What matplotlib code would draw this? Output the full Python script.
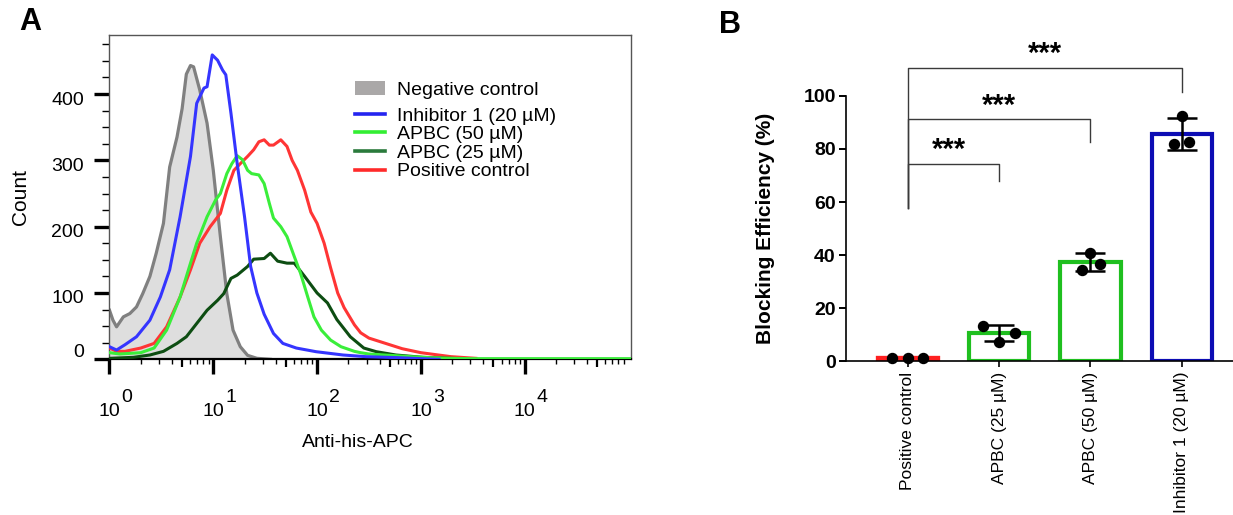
import numpy as np
import matplotlib
matplotlib.use('Agg')
import matplotlib.pyplot as plt
from matplotlib.lines import Line2D
from matplotlib.patches import Patch
from matplotlib.ticker import FixedLocator, NullFormatter, MultipleLocator
import matplotlib.transforms as mtransforms

plt.rcParams['font.family'] = ['Liberation Sans', 'DejaVu Sans']

# ---------------- Panel A data (flow cytometry histograms) ----------------
neg_x = [1.00, 1.08, 1.17, 1.36, 1.57, 1.82, 2.09, 2.45, 2.82, 3.31, 3.80, 4.47,
         5.01, 5.50, 6.03, 6.46, 7.41, 8.71, 10.0, 11.7, 13.5, 15.5, 18.2, 21.4,
         26.3, 35.5]
neg_y = [74, 59, 49, 64, 69, 79, 99, 125, 160, 205, 290, 335,
         378, 430, 443, 441, 406, 356, 285, 185, 99, 44, 19, 6,
         1.5, 0]

inh_x = [1.00, 1.17, 1.41, 1.82, 2.45, 3.09, 3.80, 4.79, 6.03, 6.92, 8.13, 8.71,
         9.77, 11.0, 12.3, 13.2, 14.8, 17.0, 20.0, 22.9, 26.3, 30.9, 38.0, 46.8,
         63.1, 97.7, 178, 295, 600, 1000, 1500]
inh_y = [19, 14, 22, 34, 59, 94, 135, 215, 306, 386, 409, 411,
         459, 451, 436, 429, 371, 295, 215, 140, 100, 68, 39, 24,
         17, 11.5, 6.5, 4, 2.5, 1, 0]

apbc50_x = [1.00, 1.26, 2.00, 2.69, 3.55, 4.79, 6.03, 6.92, 8.71, 10.5, 11.7, 13.5,
            15.1, 17.0, 19.1, 21.4, 23.4, 27.5, 30.9, 34.7, 38.0, 44.7, 51.3, 60.3,
            69.2, 81.3, 93.3, 110, 135, 170, 229, 263, 316, 501, 794, 1230,
            1950, 3000, 104700]
apbc50_y = [10, 8, 10, 17, 44, 94, 145, 175, 215, 240, 250, 280,
            295, 307, 301, 285, 280, 278, 265, 235, 213, 200, 185, 155,
            130, 94, 64, 44, 29, 19, 12, 10, 8, 6, 4, 2.5,
            1.5, 1, 1]

apbc25_x = [1.00, 1.70, 2.45, 3.31, 4.47, 5.50, 6.92, 8.71, 11.0, 12.6, 14.8, 17.0,
            21.4, 24.5, 30.9, 35.5, 41.7, 51.3, 60.3, 75.9, 100, 126, 155, 209,
            282, 372, 575, 1047, 2344]
apbc25_y = [1.5, 3, 6.5, 12, 24, 34, 54, 74, 89, 99, 122, 127,
            140, 151, 152, 160, 148, 145, 145, 125, 100, 85, 60, 34,
            17, 11.5, 6.5, 3, 1]

pos_x = [1.00, 1.17, 1.41, 2.00, 2.69, 3.55, 4.79, 6.03, 7.41, 9.33, 11.7, 13.5,
         15.8, 18.2, 21.4, 24.5, 27.5, 30.9, 34.7, 38.0, 44.7, 51.3, 57.5, 64.6,
         75.9, 87.1, 100, 117, 135, 158, 182, 229, 263, 316, 457, 661,
         1000, 1950, 3388]
pos_y = [17, 12, 12, 17, 24, 49, 94, 135, 175, 200, 220, 255,
         285, 295, 306, 316, 328, 331, 323, 323, 331, 321, 300, 285,
         255, 222, 205, 175, 138, 100, 78, 52, 40, 32, 24, 16,
         10, 4, 1.5]

legend_labels = ['Negative control', 'Inhibitor 1 (20 µM)', 'APBC (50 µM)',
                 'APBC (25 µM)', 'Positive control']
decade_exponents = [0, 1, 2, 3, 4]
count_ticks = [0, 100, 200, 300, 400]

# ---------------- Panel B data (blocking efficiency) ----------------
categories = ['Positive control', 'APBC (25 µM)', 'APBC (50 µM)', 'Inhibitor 1 (20 µM)']
bar_means = [1.2, 10.5, 37.4, 85.7]
bar_sds = [0.0, 3.1, 3.4, 5.9]
points = [[1.0, 1.0, 1.0],
          [13.2, 7.3, 10.4],
          [34.2, 40.9, 36.7],
          [82.0, 92.4, 82.6]]
sig_pairs = [(0, 1), (0, 2), (0, 3)]
sig_labels = ['***', '***', '***']

# style / layout (not data)
dot_offsets = [[-0.17, 0.0, 0.17],
               [-0.175, 0.0, 0.175],
               [-0.095, 0.0, 0.10],
               [-0.085, 0.0, 0.08]]
bar_colors = ['#ff2020', '#1fbf1f', '#1fbf1f', '#0c0cb4']
bracket_base = 57.9
bracket_tops = [74.3, 91.2, 110.4]
bracket_ends = [67.8, 82.6, 101.5]
star_y = [82.6, 99.2, 118.9]
star_x = [0.45, 1.0, 1.5]

c_gray_line = '#808080'
c_gray_fill = '#dedede'
c_blue = '#3535ff'
c_green = '#3aee3a'
c_dkgreen = '#0d4d12'
c_red = '#ff3535'

fig = plt.figure(figsize=(12.33, 5.15), dpi=100)

# ================= Panel A =================
axA = fig.add_axes([0.0888, 0.3023, 0.4226, 0.6297])
axA.set_xscale('log')
axA.fill_between(neg_x, neg_y, 0, color=c_gray_fill, lw=0, zorder=1)
axA.plot(neg_x, neg_y, color=c_gray_line, lw=2.3, zorder=2)
axA.plot(pos_x, pos_y, color=c_red, lw=2.2, zorder=3)
axA.plot(apbc25_x, apbc25_y, color=c_dkgreen, lw=2.2, zorder=4)
axA.plot(apbc50_x, apbc50_y, color=c_green, lw=2.2, zorder=5)
axA.plot(inh_x, inh_y, color=c_blue, lw=2.2, zorder=6)

axA.set_xlim(1, 10 ** 5.02)
axA.set_ylim(0, 489)

for s in ['top', 'right', 'left']:
    axA.spines[s].set_color('#555555')
    axA.spines[s].set_linewidth(1.0)
axA.spines['bottom'].set_color('black')
axA.spines['bottom'].set_linewidth(1.6)

# y ticks (labels drawn as texts with FlowJo-like offsets)
axA.yaxis.set_major_locator(FixedLocator(count_ticks))
axA.yaxis.set_minor_locator(MultipleLocator(25))
axA.yaxis.set_major_formatter(NullFormatter())
axA.tick_params(axis='y', which='major', direction='out', length=11, width=2.4)
axA.tick_params(axis='y', which='minor', direction='out', length=5, width=1.0)
ytrans = mtransforms.blended_transform_factory(axA.transAxes, axA.transData)
for v in count_ticks:
    dy = 7 if v == 0 else -6
    t = mtransforms.offset_copy(ytrans, fig=fig, x=0, y=dy, units='dots')
    axA.text(-0.049, v, str(v), ha='right', va='center', fontsize=14,
             transform=t, clip_on=False)

# x ticks
decades = [10.0 ** k for k in decade_exponents]
minor_pos = []
mid_pos = []
for k in range(0, 5):
    for m in [2, 3, 4, 6, 7, 8, 9]:
        v = m * 10.0 ** k
        if v < 10 ** 5.02:
            minor_pos.append(v)
    mid_pos.append(5 * 10.0 ** k)
axA.xaxis.set_major_locator(FixedLocator(decades))
axA.xaxis.set_minor_locator(FixedLocator(minor_pos))
axA.xaxis.set_major_formatter(NullFormatter())
axA.xaxis.set_minor_formatter(NullFormatter())
axA.tick_params(axis='x', which='major', direction='out', length=11, width=2.4)
axA.tick_params(axis='x', which='minor', direction='out', length=3.6, width=1.0)

sec = axA.secondary_xaxis('bottom')
sec.set_xticks(mid_pos)
sec.xaxis.set_minor_locator(FixedLocator([]))
sec.tick_params(axis='x', which='major', direction='out', length=6, width=1.6,
                labelbottom=False)
sec.spines['bottom'].set_visible(False)

trans = mtransforms.blended_transform_factory(axA.transData, axA.transAxes)
trans_exp = mtransforms.offset_copy(trans, fig=fig, x=17.5, y=14.5, units='dots')
for k, d in zip(decade_exponents, decades):
    axA.text(d, -0.162, '10', ha='center', va='center', fontsize=14,
             transform=trans, clip_on=False)
    axA.text(d, -0.162, str(k), ha='center', va='center', fontsize=14,
             transform=trans_exp, clip_on=False)

axA.set_xlabel('Anti-his-APC', fontsize=14, va='center')
axA.xaxis.set_label_coords(0.477, -0.255)
axA.set_ylabel('Count', fontsize=15, va='center')
axA.yaxis.set_label_coords(-0.171, 0.5)

patch_handle = [Patch(facecolor='#aaa8a8', edgecolor='none')]
line_handles = [Line2D([], [], color='#2424f0', lw=2.6),
                Line2D([], [], color='#33ee33', lw=2.6),
                Line2D([], [], color='#2a7a3c', lw=2.6),
                Line2D([], [], color='#ff2a2a', lw=2.6)]
leg1 = axA.legend(patch_handle, legend_labels[:1], loc='center left',
                  bbox_to_anchor=(0.471, 0.830), frameon=False, fontsize=14,
                  handlelength=1.55, handletextpad=0.6, borderpad=0,
                  borderaxespad=0)
axA.add_artist(leg1)
axA.legend(line_handles, legend_labels[1:], loc='upper left',
           bbox_to_anchor=(0.471, 0.778), frameon=False, fontsize=14,
           handlelength=1.55, handletextpad=0.6, labelspacing=0.05,
           borderpad=0, borderaxespad=0)

# ================= Panel B =================
axB = fig.add_axes([0.6858, 0.299, 0.3142, 0.5146])
xpos = np.arange(len(categories))
axB.bar(xpos, bar_means, width=0.66, facecolor='white', edgecolor=bar_colors,
        linewidth=3.0, zorder=2)
axB.bar(xpos[:1], bar_means[:1], width=0.66, color=bar_colors[0],
        edgecolor=bar_colors[0], linewidth=3.0, zorder=2)
err_idx = [i for i, s in enumerate(bar_sds) if s > 0]
axB.errorbar(xpos[err_idx], np.array(bar_means)[err_idx],
             yerr=np.array(bar_sds)[err_idx], fmt='none', ecolor='black',
             elinewidth=1.8, capsize=10.5, capthick=1.8, zorder=3)
for i in range(len(categories)):
    axB.plot(xpos[i] + np.array(dot_offsets[i]), points[i], 'o', color='black',
             markersize=7.2, zorder=4, clip_on=False)

axB.set_xlim(-0.68, 3.56)
axB.set_ylim(0, 100)
axB.spines['top'].set_visible(False)
axB.spines['right'].set_visible(False)
axB.spines['left'].set_linewidth(1.2)
axB.spines['bottom'].set_linewidth(1.2)
axB.set_yticks([0, 20, 40, 60, 80, 100])
axB.tick_params(axis='y', direction='out', length=5, width=1.4, labelsize=14, pad=2)
for lab in axB.get_yticklabels():
    lab.set_fontweight('bold')
axB.set_xticks(xpos)
axB.set_xticklabels(categories, rotation=90, fontsize=12.5, va='top')
axB.tick_params(axis='x', direction='out', length=4.5, width=1.2, pad=3)
axB.set_ylabel('Blocking Efficiency (%)', fontsize=15, fontweight='bold', va='center')
axB.yaxis.set_label_coords(-0.208, 0.5)

bc = '#3a3a3a'
for (a, b), top, end, sy, sx, lab in zip(sig_pairs, bracket_tops, bracket_ends,
                                        star_y, star_x, sig_labels):
    axB.plot([a, a, b, b], [bracket_base, top, top, end], color=bc, lw=1.0,
             clip_on=False, zorder=1)
    st = mtransforms.offset_copy(axB.transData, fig=fig, x=0, y=-16, units='dots')
    axB.text(sx, sy, lab, ha='center', va='baseline', fontsize=21, fontweight='bold',
             transform=st, clip_on=False)

fig.text(30 / 1233, 1 - 22 / 515, 'A', fontsize=22, fontweight='bold',
         ha='center', va='center')
fig.text(730 / 1233, 1 - 25 / 515, 'B', fontsize=22, fontweight='bold',
         ha='center', va='center')

fig.savefig('out.png', dpi=100)
